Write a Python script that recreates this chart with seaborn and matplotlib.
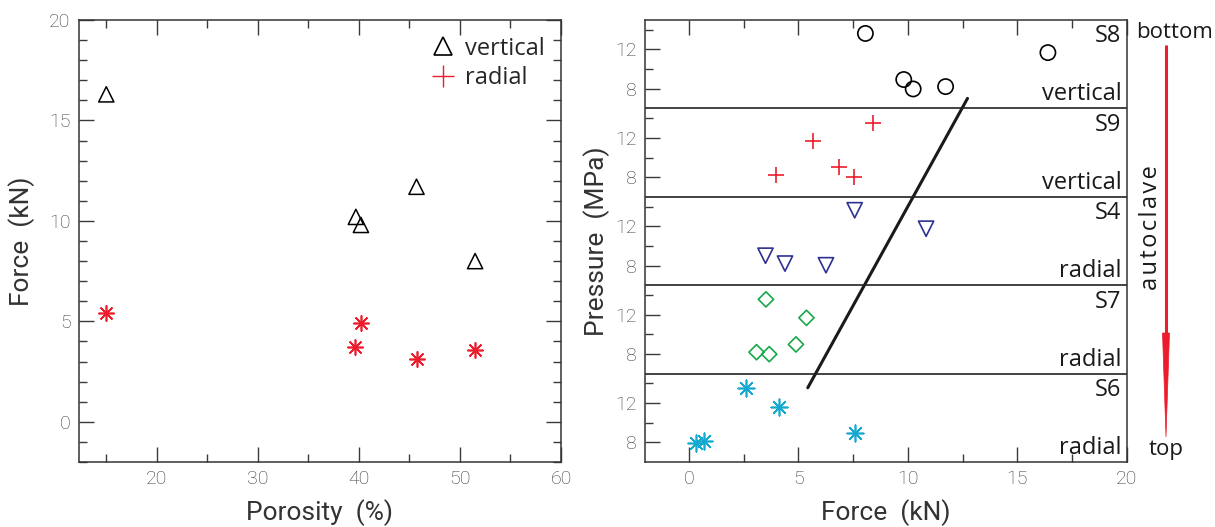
import numpy as np
import pandas as pd
import matplotlib
matplotlib.use("Agg")
import matplotlib.pyplot as plt
from matplotlib.lines import Line2D
from matplotlib.patches import Polygon
from matplotlib.ticker import MultipleLocator, FixedLocator
import seaborn as sns

# ---------------- data ----------------
# left panel: porosity (%) vs force (kN)
porosity = [15.0, 39.7, 40.2, 45.7, 51.5]
force_vertical = [16.3, 10.2, 9.8, 11.7, 8.0]
porosity_radial = [15.0, 39.6, 40.2, 45.7, 51.5]
force_radial = [5.4, 3.7, 4.9, 3.15, 3.55]

# right panel: force (kN) vs pressure (MPa) for each sample
samples = ["S6", "S7", "S4", "S9", "S8"]            # bottom -> top
orient = ["radial", "radial", "radial", "vertical", "vertical"]
force_S8 = [8.06, 16.39, 9.81, 10.24, 11.72]
press_S8 = [13.63, 11.68, 8.94, 7.98, 8.22]
force_S9 = [8.39, 5.65, 6.85, 3.96, 7.54]
press_S9 = [13.56, 11.68, 9.0, 8.18, 7.98]
force_S4 = [7.57, 10.83, 3.50, 4.39, 6.26]
press_S4 = [13.63, 11.75, 9.0, 8.2, 8.03]
force_S7 = [3.52, 5.37, 4.89, 3.09, 3.67]
press_S7 = [13.56, 11.68, 8.97, 8.18, 7.98]
force_S6 = [2.59, 4.13, 7.57, 0.35, 0.70]
press_S6 = [13.56, 11.64, 8.94, 7.95, 8.15]
# trend line end points (force, pressure, sample)
trend_force = [5.43, 12.72]
trend_press = [13.56, 7.02]
trend_sample = ["S6", "S8"]

press_ticks = [8, 12]
press_minor = [10, 14]

# ---------------- style ----------------
sns.set_style("ticks")
plt.rcParams['font.family'] = ['Roboto', 'DejaVu Sans']
plt.rcParams['font.weight'] = 'light'
label_font = ['Open Sans', 'DejaVu Sans']
RED = '#ec1c2c'
BLUE = '#2e3192'
GREEN = '#16a84a'
CYAN = '#15a9d0'
TICKC = '#3a3a3a'

W, H = 1215, 527
fig = plt.figure(figsize=(W/100, H/100), dpi=100)
ax1 = fig.add_axes([79/W, 1-462/H, (561-79)/W, (462-20)/H])
ax2 = fig.add_axes([645/W, 1-462/H, (1127-645)/W, (462-20)/H])

def style_ticks(ax, right=True):
    ax.tick_params(which='both', direction='in', top=True, right=right,
                   colors=TICKC, labelcolor=TICKC, width=1.0)
    ax.tick_params(which='major', length=11, labelsize=14, pad=6)
    ax.tick_params(which='minor', length=5.5)
    for s in ax.spines.values():
        s.set_color('#333333')
        s.set_linewidth(1.1)

# ---------------- left panel ----------------
df_v = pd.DataFrame({"Porosity": porosity, "Force": force_vertical})
df_r = pd.DataFrame({"Porosity": porosity_radial, "Force": force_radial})
sns.scatterplot(data=df_v, x="Porosity", y="Force", ax=ax1, marker='^', s=120,
                facecolors='none', edgecolor='black', linewidth=1.1)
sns.scatterplot(data=df_r, x="Porosity", y="Force", ax=ax1, marker=(8, 2, 0), s=120,
                color=RED, edgecolor=RED, linewidth=1.2)
ax1.set_xlim(12.3, 60)
ax1.set_ylim(-2, 20)
ax1.xaxis.set_major_locator(FixedLocator([20, 30, 40, 50, 60]))
ax1.xaxis.set_minor_locator(MultipleLocator(5))
ax1.yaxis.set_major_locator(MultipleLocator(5))
ax1.yaxis.set_minor_locator(MultipleLocator(1))
style_ticks(ax1)
ax1.set_xlabel("Porosity  (%)", fontsize=19, color='#333333', labelpad=8)
ax1.set_ylabel("Force  (kN)", fontsize=19, color='#333333', labelpad=10)

handles = [Line2D([], [], marker='^', ls='none', markersize=13, markerfacecolor='none',
                  markeredgecolor='black', markeredgewidth=1.2),
           Line2D([], [], marker='+', ls='none', markersize=16, color=RED,
                  markeredgewidth=1.0)]
ax1.legend(handles, ["vertical", "radial"], loc='upper right', frameon=False,
           prop={'family': label_font, 'size': 17, 'weight': 'normal'},
           handletextpad=0.3, labelspacing=0.25, borderaxespad=0.3, handlelength=1.2)

# ---------------- right panel ----------------
band_h = 9.0
pmin = 6.0
def gy(p, sample):
    return np.asarray(p, dtype=float) - pmin + band_h * samples.index(sample)

series = [
    ("S8", force_S8, press_S8, 'o', dict(facecolors='none', edgecolor='black'), 120),
    ("S9", force_S9, press_S9, '+', dict(color=RED), 130),
    ("S4", force_S4, press_S4, 'v', dict(facecolors='none', edgecolor=BLUE), 120),
    ("S7", force_S7, press_S7, 'D', dict(facecolors='none', edgecolor=GREEN), 60),
    ("S6", force_S6, press_S6, (8, 2, 0), dict(color=CYAN, edgecolor=CYAN), 140),
]
for name, f, p, mk, kw, sz in series:
    d = pd.DataFrame({"Force": f, "Y": gy(p, name)})
    sns.scatterplot(data=d, x="Force", y="Y", ax=ax2, marker=mk, s=sz,
                    linewidth=1.2, **kw)

ty = [float(gy([trend_press[0]], trend_sample[0])[0]),
      float(gy([trend_press[1]], trend_sample[1])[0])]
sns.lineplot(x=trend_force, y=ty, ax=ax2, color='#1a1a1a', linewidth=2.2,
             sort=False, estimator=None)

ax2.set_xlim(-2, 20)
ax2.set_ylim(0, band_h * len(samples))
for k in range(1, len(samples)):
    ax2.axhline(band_h * k, color='#222222', linewidth=1.2)

maj = [gy([t], s)[0] for s in samples for t in press_ticks]
mnr = [gy([t], s)[0] for s in samples for t in press_minor]
ax2.yaxis.set_major_locator(FixedLocator(maj))
ax2.yaxis.set_minor_locator(FixedLocator(mnr))
ax2.set_yticklabels([str(t) for s in samples for t in press_ticks])
ax2.xaxis.set_major_locator(MultipleLocator(5))
ax2.xaxis.set_minor_locator(MultipleLocator(2.5))
style_ticks(ax2, right=False)
ax2.set_xlabel("Force  (kN)", fontsize=19, color='#333333', labelpad=8)
ax2.set_ylabel("Pressure  (MPa)", fontsize=19, color='#333333', labelpad=4)

for k, (s, o) in enumerate(zip(samples, orient)):
    ax2.text(19.75, band_h * (k + 1) - 0.45, s, ha='right', va='top',
             fontsize=17, family=label_font, weight='normal', color='#1a1a1a')
    ax2.text(19.75, band_h * k + 0.2, o, ha='right', va='bottom',
             fontsize=17, family=label_font, weight='normal', color='#1a1a1a')

# autoclave annotation on the right
fig.text(1175/W, 1-32/H, "bottom", ha='center', va='center', fontsize=16,
         family=label_font, weight='normal', color='#1a1a1a')
fig.text(1166/W, 1-450/H, "top", ha='center', va='center', fontsize=16,
         family=label_font, weight='normal', color='#1a1a1a')
fig.text(1151/W, 1-228/H, "a\u200au\u200at\u200ao\u200ac\u200al\u200aa\u200av\u200ae",
         ha='center', va='center', rotation=90, fontsize=17, family=label_font,
         weight='normal', color='#1a1a1a')
# red arrow: shaft + long narrow head
shaft = Line2D([1166/W, 1166/W], [1-45/H, 1-340/H], transform=fig.transFigure,
               color=RED, linewidth=2.2, solid_capstyle='butt')
fig.add_artist(shaft)
head = Polygon([(1162.5/W, 1-333/H), (1169.5/W, 1-333/H), (1166/W, 1-437/H)],
               closed=True, transform=fig.transFigure, facecolor=RED,
               edgecolor=RED, linewidth=0.5)
fig.add_artist(head)

fig.savefig("out.png", dpi=100)
